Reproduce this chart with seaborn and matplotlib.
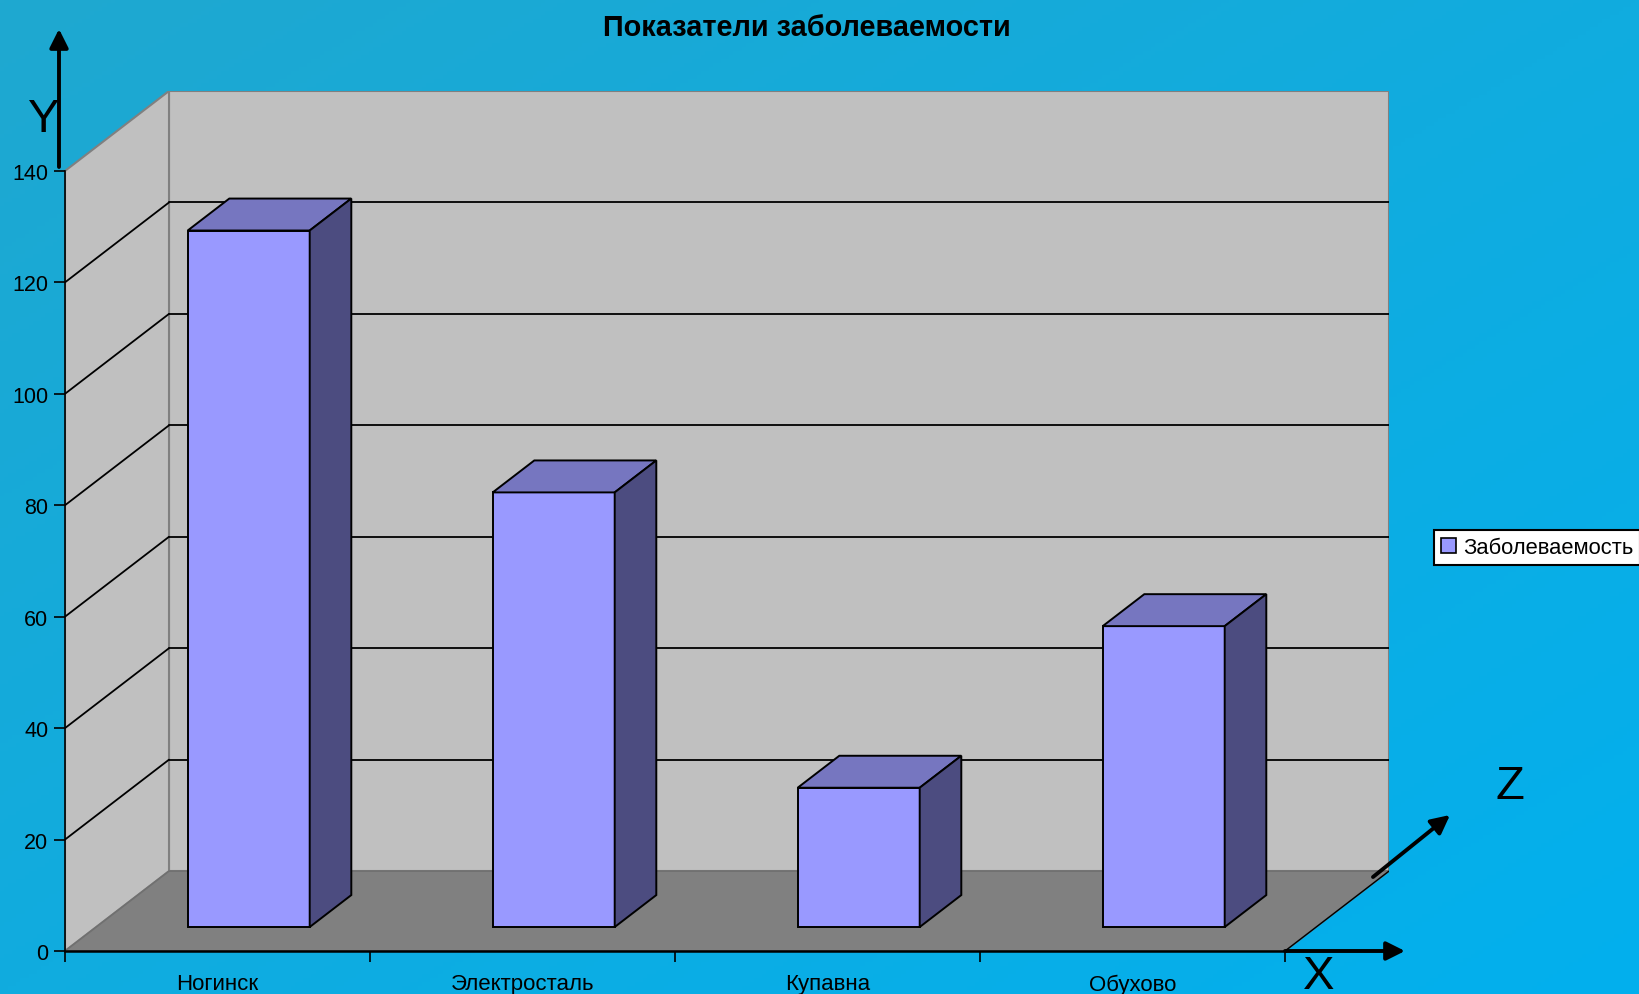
import numpy as np
import matplotlib
matplotlib.use('Agg')
import matplotlib.pyplot as plt
from matplotlib.patches import Polygon, Rectangle, Patch
import seaborn as sns

# данные
cities = ['Ногинск', 'Электросталь', 'Купавна', 'Обухово']
values = [125, 78, 25, 54]
y_ticks = [0, 20, 40, 60, 80, 100, 120, 140]
series_name = 'Заболеваемость'
title = 'Показатели заболеваемости'

front_color = '#9999FF'
top_color = '#7676C0'
side_color = '#4C4C80'

W, H = 1639, 995
# глубина "3d" коробки в единицах данных
dx, dy = 0.341, 14.34
y_max = 140
bar_w = 0.4
z0, z1 = 0.3, 0.7  # передняя и задняя грань столбика по глубине

sns.set_theme(style='white')
plt.rcParams['font.family'] = ['Liberation Sans', 'DejaVu Sans']

fig = plt.figure(figsize=(W / 100, H / 100), dpi=100)

# фон с градиентом
bg = fig.add_axes([0, 0, 1, 1], zorder=-10)
gx, gy = np.meshgrid(np.linspace(0, 1, 400), np.linspace(0, 1, 250))
t = (gx + gy) / 2
c0 = np.array([31, 168, 208]) / 255
c1 = np.array([2, 176, 238]) / 255
bg.imshow(c0 + (c1 - c0) * t[..., None], aspect='auto', extent=[0, 1, 0, 1], origin='upper')
bg.axis('off')

ax = fig.add_axes([65 / W, (H - 952) / H, 1324 / W, 860 / H])
ax.patch.set_visible(False)

sns.barplot(x=cities, y=values, color=front_color, saturation=1, width=bar_w,
            edgecolor='black', linewidth=1.4, ax=ax, zorder=3)
bars = list(ax.patches)

x_left, x_right = -0.5, len(cities) - 0.5

# стены и пол
wall_kw = dict(facecolor='#C0C0C0', edgecolor='#808080', linewidth=1.5, zorder=0.5)
ax.add_patch(Rectangle((x_left + dx, dy), x_right - x_left, y_max, **wall_kw))
ax.add_patch(Polygon([(x_left, 0), (x_left + dx, dy), (x_left + dx, dy + y_max), (x_left, y_max)], **wall_kw))
ax.add_patch(Polygon([(x_left, 0), (x_right, 0), (x_right + dx, dy), (x_left + dx, dy)],
                     facecolor='#808080', edgecolor='#707070', linewidth=1.2, zorder=0.7))
ax.plot([x_right, x_right + dx], [0, dy], color='black', lw=1.0, zorder=0.8)

# сетка
for v in y_ticks[1:-1]:
    ax.plot([x_left + dx, x_right + dx], [v + dy, v + dy], color='black', lw=1.3, zorder=0.6)
    ax.plot([x_left, x_left + dx], [v, v + dy], color='black', lw=1.3, zorder=0.6)

# объемные столбики
for p in bars:
    h = p.get_height()
    fx = p.get_x() + z0 * dx
    fy = z0 * dy
    p.set_x(fx)
    p.set_y(fy)
    w = p.get_width()
    ddx, ddy = (z1 - z0) * dx, (z1 - z0) * dy
    ax.add_patch(Polygon([(fx, fy + h), (fx + w, fy + h), (fx + w + ddx, fy + h + ddy), (fx + ddx, fy + h + ddy)],
                         facecolor=top_color, edgecolor='black', linewidth=1.4, zorder=3))
    ax.add_patch(Polygon([(fx + w, fy), (fx + w + ddx, fy + ddy), (fx + w + ddx, fy + h + ddy), (fx + w, fy + h)],
                         facecolor=side_color, edgecolor='black', linewidth=1.4, zorder=3))

ax.set_xlim(x_left, x_right + dx)
ax.set_ylim(0, y_max + dy)
ax.set_xlabel('')
ax.set_ylabel('')

ax.spines['top'].set_visible(False)
ax.spines['right'].set_visible(False)
for s in ['left', 'bottom']:
    ax.spines[s].set_color('black')
    ax.spines[s].set_zorder(4)
ax.spines['left'].set_linewidth(1.2)
ax.spines['bottom'].set_linewidth(1.8)
ax.spines['left'].set_bounds(0, y_max)
ax.spines['bottom'].set_bounds(x_left, x_right)

ax.set_yticks(y_ticks)
ax.tick_params(axis='y', left=True, direction='out', length=8, width=1.2, color='black',
               labelsize=15.5, pad=4, labelcolor='black')
ax.set_xticks(range(len(cities)))
ax.set_xticklabels(cities)
ax.tick_params(axis='x', which='major', bottom=False, length=0, pad=16, labelsize=16, labelcolor='black')
ax.set_xticks(np.arange(x_left, x_right + 0.1, 1), minor=True)
ax.tick_params(axis='x', which='minor', bottom=True, direction='out', length=8, width=1.2, color='black')

# стрелки осей
def px(x, y):
    return (x, H - y)

arrow = dict(arrowstyle='-|>', lw=2.8, color='black', mutation_scale=28, shrinkA=0, shrinkB=0)
for a, b in [((59, 168), (59, 30)), ((1285, 952), (1405, 952)), ((1373, 878), (1450, 816))]:
    ax.annotate('', xy=px(*b), xytext=px(*a), xycoords='figure pixels',
                textcoords='figure pixels', arrowprops=arrow, annotation_clip=False)
for lbl, (x, y) in [('Y', (44, 120)), ('X', (1319, 977)), ('Z', (1510, 787))]:
    fig.text(x / W, 1 - y / H, lbl, ha='center', va='center', fontsize=34, color='black')

fig.text(807 / W, 1 - 28 / H, title, ha='center', va='center', fontsize=20.8, fontweight='bold', color='black')

leg = fig.legend(handles=[Patch(facecolor=front_color, edgecolor='black', linewidth=1.2)], labels=[series_name],
                 loc='center left', bbox_to_anchor=(1434 / W, 1 - 548.5 / H), bbox_transform=fig.transFigure,
                 frameon=True, fancybox=False, framealpha=1, edgecolor='black', fontsize=15.8, labelcolor='black',
                 borderpad=0.3, handlelength=0.7, handleheight=0.7, handletextpad=0.35, borderaxespad=0)
leg.get_frame().set_linewidth(1.5)

fig.savefig('out.png', dpi=100)
